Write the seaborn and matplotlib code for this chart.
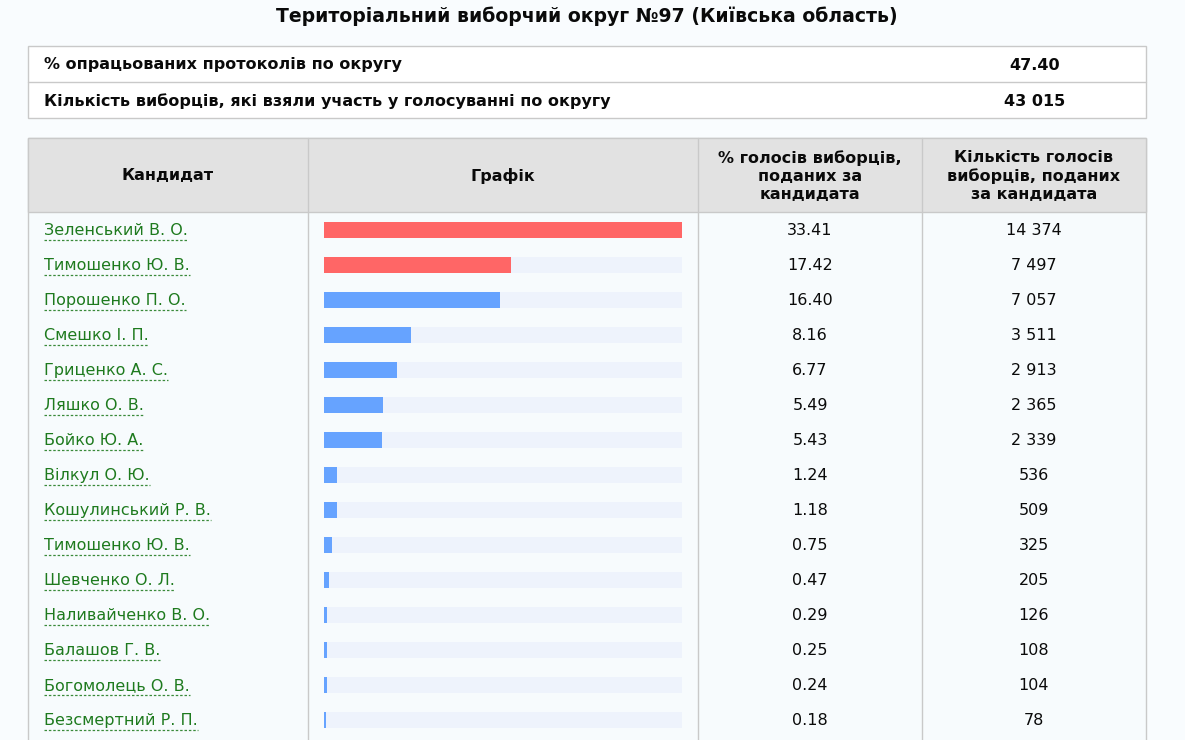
import matplotlib
matplotlib.use("Agg")
import matplotlib.pyplot as plt
import seaborn as sns
import pandas as pd
from matplotlib.patches import Rectangle

sns.set_theme(style="white")
plt.rcParams['font.family'] = ['DejaVu Sans']

title = "Територіальний виборчий округ №97 (Київська область)"
summary_labels = ["% опрацьованих протоколів по округу",
                  "Кількість виборців, які взяли участь у голосуванні по округу"]
summary_values = ["47.40", "43 015"]
header_labels = ["Кандидат", "Графік",
                 "% голосів виборців,\nподаних за\nкандидата",
                 "Кількість голосів\nвиборців, поданих\nза кандидата"]

candidates = ["Зеленський В. О.", "Тимошенко Ю. В.", "Порошенко П. О.", "Смешко І. П.",
              "Гриценко А. С.", "Ляшко О. В.", "Бойко Ю. А.", "Вілкул О. Ю.",
              "Кошулинський Р. В.", "Тимошенко Ю. В. ", "Шевченко О. Л.",
              "Наливайченко В. О.", "Балашов Г. В.", "Богомолець О. В.", "Безсмертний Р. П."]
percents = [33.41, 17.42, 16.40, 8.16, 6.77, 5.49, 5.43, 1.24, 1.18, 0.75, 0.47, 0.29, 0.25, 0.24, 0.18]
votes = ["14 374", "7 497", "7 057", "3 511", "2 913", "2 365", "2 339", "536",
         "509", "325", "205", "126", "108", "104", "78"]
leaders = 2

W, H = 1185, 740
fig = plt.figure(figsize=(W / 100, H / 100), dpi=100)
fig.patch.set_facecolor("#f9fcfe")

bg = fig.add_axes([0, 0, 1, 1])
bg.set_xlim(0, W)
bg.set_ylim(H, 0)
bg.axis("off")

green = "#1e7a1e"
border = "#c9c9c9"
txt = "#0a0a0a"
fs = 11.5

bg.text(587, 16, title, ha="center", va="center", fontsize=13.6, fontweight="bold", color=txt)

# summary box
bg.add_patch(Rectangle((28, 46), 1118, 72, facecolor="white", edgecolor=border, lw=1))
bg.plot([28, 1146], [82, 82], color=border, lw=1)
for i, (lab, val) in enumerate(zip(summary_labels, summary_values)):
    y = 65 + 36 * i
    bg.text(44, y, lab, ha="left", va="center", fontsize=fs, fontweight="bold", color=txt)
    bg.text(1035, y, val, ha="center", va="center", fontsize=fs, fontweight="bold", color=txt)

# main table
bg.add_patch(Rectangle((28, 138), 1118, 620, facecolor="#f7fbfd", edgecolor=border, lw=1))
bg.add_patch(Rectangle((28, 138), 1118, 74, facecolor="#e2e2e2", edgecolor=border, lw=1))
for xd in [308, 698, 922]:
    bg.plot([xd, xd], [138, 740], color=border, lw=1)
hx = [168, 503, 810, 1034]
for x, lab in zip(hx, header_labels):
    bg.text(x, 176, lab, ha="center", va="center", fontsize=fs, fontweight="bold",
            color=txt, linespacing=1.22)

row_y = [230 + 35 * i for i in range(len(candidates))]
name_texts = []
for y, name, p, v in zip(row_y, candidates, percents, votes):
    t = bg.text(44, y + 0.5, name.strip(), ha="left", va="center", fontsize=fs, color=green)
    name_texts.append((t, y))
    bg.text(810, y + 0.5, f"{p:.2f}", ha="center", va="center", fontsize=fs, color=txt)
    bg.text(1034, y + 0.5, v, ha="center", va="center", fontsize=fs, color=txt)

fig.canvas.draw()
renderer = fig.canvas.get_renderer()
for t, y in name_texts:
    bb = t.get_window_extent(renderer)
    bg.plot([44, 44 + bb.width], [y + 9.5, y + 9.5], color="#3a8a3a", lw=0.9,
            linestyle=(0, (2, 1.5)))

# bar chart axes
top, bottom = 212.5, 737.5
ax = fig.add_axes([324 / W, 1 - bottom / H, 358 / W, (bottom - top) / H])
ax.set_facecolor("none")
df = pd.DataFrame({"name": candidates, "pct": percents,
                   "track": [max(percents)] * len(candidates),
                   "group": ["lead" if i < leaders else "other" for i in range(len(candidates))]})
sns.barplot(data=df, y="name", x="track", color="#eef3fc", width=0.45, ax=ax,
            saturation=1, orient="h", linewidth=0)
sns.barplot(data=df, y="name", x="pct", hue="group", palette={"lead": "#ff6666", "other": "#66a3ff"},
            width=0.45, ax=ax, saturation=1, orient="h", legend=False, dodge=False, linewidth=0)
ax.set_xlim(0, max(percents))
ax.set_ylim(len(candidates) - 0.5, -0.5)
ax.axis("off")

fig.savefig("out.png", dpi=100, facecolor=fig.get_facecolor())
